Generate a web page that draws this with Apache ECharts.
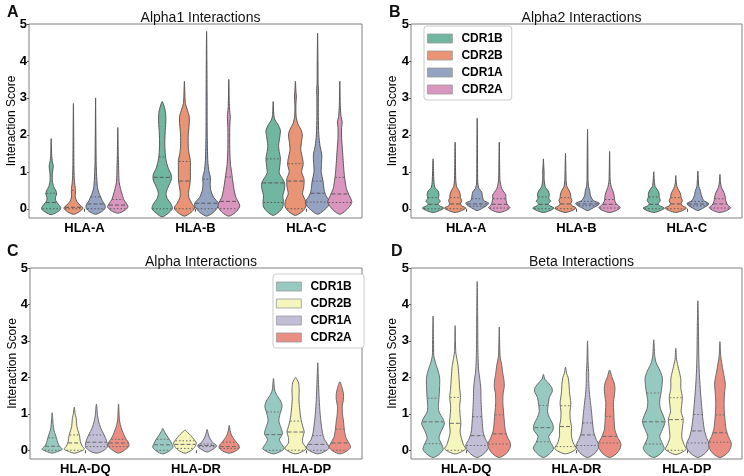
<!DOCTYPE html>
<html><head><meta charset="utf-8">
<script src="https://cdn.jsdelivr.net/npm/echarts@6/dist/echarts.min.js"></script>
<style>html,body{margin:0;padding:0;background:#fff}#c{width:744px;height:476px}</style>
</head><body><div id="c"></div>
<script>
// ---------- categories / labels ----------
const categoriesI = ['HLA-A', 'HLA-B', 'HLA-C'];
const categoriesII = ['HLA-DQ', 'HLA-DR', 'HLA-DP'];
const hues = ['CDR1B', 'CDR2B', 'CDR1A', 'CDR2A'];
const yTicks = [0, 1, 2, 3, 4, 5];
const titles = ['Alpha1 Interactions', 'Alpha2 Interactions', 'Alpha Interactions', 'Beta Interactions'];
const panelLetters = ['A', 'B', 'C', 'D'];

// ---------- violin profiles: [score, relative density width] per category; quartiles [q1, median, q3] ----------
// Panel A: Alpha1
const a1_CDR1B = [
  [[-0.16,0],[-0.1,0.45],[-0.03,0.75],[0.03,0.8],[0.12,0.6],[0.22,0.38],[0.3,0.35],[0.4,0.45],[0.48,0.4],[0.6,0.2],[0.75,0.1],[0.95,0.1],[1.08,0.15],[1.17,0.17],[1.27,0.1],[1.45,0.04],[1.9,0]],
  [[-0.22,0],[-0.12,0.5],[0,0.85],[0.12,0.75],[0.28,0.42],[0.42,0.32],[0.58,0.48],[0.78,0.75],[0.92,0.75],[1.1,0.5],[1.35,0.3],[1.7,0.22],[2.05,0.24],[2.35,0.3],[2.6,0.28],[2.78,0.15],[2.9,0]],
  [[-0.18,0],[-0.08,0.5],[0.05,0.8],[0.2,0.85],[0.35,0.8],[0.55,0.95],[0.7,0.95],[0.85,0.7],[0.97,0.5],[1.15,0.55],[1.37,0.6],[1.55,0.5],[1.72,0.45],[1.95,0.55],[2.12,0.6],[2.28,0.4],[2.4,0.15],[2.55,0.05],[2.9,0]]
];
const a1_CDR1B_q = [[0.0,0.17,0.42],[0.0,0.85,1.4],[0.17,0.7,1.35]];
const a1_CDR2B = [
  [[-0.15,0],[-0.08,0.5],[0.02,0.8],[0.1,0.55],[0.2,0.28],[0.32,0.15],[0.45,0.17],[0.55,0.16],[0.7,0.1],[0.9,0.06],[1.2,0.04],[2,0.025],[2.85,0]],
  [[-0.2,0],[-0.1,0.55],[0.02,0.85],[0.15,0.6],[0.3,0.38],[0.45,0.35],[0.65,0.45],[0.85,0.5],[1.1,0.5],[1.3,0.5],[1.5,0.38],[1.7,0.32],[2.0,0.32],[2.3,0.4],[2.5,0.4],[2.7,0.22],[2.85,0.08],[3.1,0.04],[3.45,0]],
  [[-0.18,0],[-0.08,0.55],[0.05,0.85],[0.2,0.85],[0.4,0.6],[0.6,0.7],[0.8,0.72],[1.0,0.52],[1.2,0.65],[1.35,0.6],[1.6,0.45],[1.8,0.5],[2.0,0.58],[2.15,0.45],[2.3,0.2],[2.5,0.06],[2.8,0.04],[3.05,0.08],[3.15,0.05],[3.45,0]]
];
const a1_CDR2B_q = [[0.0,0.04,0.5],[0.0,0.75,1.28],[0.0,0.75,1.22]];
const a1_CDR1A = [
  [[-0.15,0],[-0.08,0.5],[0.02,0.8],[0.12,0.75],[0.22,0.55],[0.32,0.42],[0.45,0.25],[0.6,0.15],[0.8,0.1],[0.95,0.08],[1.2,0.05],[2,0.025],[3.0,0]],
  [[-0.2,0],[-0.1,0.55],[0.05,0.95],[0.15,1.0],[0.3,0.6],[0.5,0.35],[0.7,0.3],[0.85,0.32],[1.0,0.2],[1.3,0.1],[2.0,0.05],[3.0,0.04],[4.0,0.025],[4.8,0]],
  [[-0.15,0],[-0.05,0.5],[0.1,0.95],[0.2,1.0],[0.35,0.7],[0.5,0.55],[0.75,0.45],[1.0,0.3],[1.2,0.32],[1.45,0.35],[1.7,0.2],[2.0,0.1],[2.5,0.06],[3.0,0.06],[3.2,0.08],[3.4,0.04],[4.0,0.03],[4.75,0]]
];
const a1_CDR1A_q = [[0.0,0.13,0.32],[0.0,0.15,0.8],[0.18,0.42,0.75]];
const a1_CDR2A = [
  [[-0.12,0],[-0.05,0.55],[0.05,0.85],[0.15,0.7],[0.25,0.5],[0.4,0.35],[0.55,0.22],[0.7,0.12],[0.9,0.08],[1.1,0.07],[1.4,0.04],[2.2,0]],
  [[-0.2,0],[-0.1,0.55],[0.05,0.9],[0.15,0.85],[0.3,0.6],[0.5,0.45],[0.75,0.33],[0.95,0.25],[1.2,0.14],[1.6,0.08],[2.2,0.08],[2.5,0.12],[2.7,0.06],[3.0,0.03],[3.5,0]],
  [[-0.15,0],[-0.05,0.5],[0.1,0.9],[0.2,1.0],[0.35,0.8],[0.55,0.55],[0.8,0.42],[1.0,0.35],[1.3,0.28],[1.6,0.22],[1.9,0.15],[2.2,0.15],[2.35,0.2],[2.5,0.1],[2.8,0.04],[3.45,0]]
];
const a1_CDR2A_q = [[0.0,0.1,0.25],[0.0,0.2,0.86],[0.17,0.4,0.85]];

// Panel B: Alpha2
const a2_CDR1B = [
  [[-0.1,0],[-0.05,0.55],[0.02,0.9],[0.08,0.55],[0.13,0.4],[0.2,0.6],[0.28,0.45],[0.38,0.5],[0.48,0.42],[0.58,0.15],[0.75,0.07],[1.0,0.04],[1.35,0]],
  [[-0.1,0],[-0.05,0.55],[0.02,0.9],[0.08,0.55],[0.13,0.4],[0.2,0.6],[0.28,0.45],[0.38,0.5],[0.48,0.4],[0.6,0.15],[0.8,0.06],[1.0,0.06],[1.1,0.04],[1.35,0]],
  [[-0.1,0],[-0.05,0.55],[0.02,0.9],[0.08,0.5],[0.14,0.38],[0.22,0.55],[0.32,0.45],[0.42,0.45],[0.52,0.3],[0.6,0.12],[0.75,0.05],[1.0,0]]
];
const a2_CDR1B_q = [[0.0,0.12,0.3],[0.0,0.12,0.32],[0.0,0.12,0.32]];
const a2_CDR2B = [
  [[-0.1,0],[-0.05,0.55],[0.02,0.9],[0.08,0.55],[0.14,0.45],[0.22,0.55],[0.3,0.45],[0.4,0.42],[0.5,0.3],[0.6,0.12],[0.8,0.05],[1.2,0.03],[1.8,0]],
  [[-0.1,0],[-0.05,0.55],[0.02,0.9],[0.08,0.55],[0.14,0.45],[0.22,0.55],[0.3,0.45],[0.4,0.42],[0.5,0.3],[0.6,0.12],[0.8,0.05],[1.1,0.03],[1.5,0]],
  [[-0.1,0],[-0.05,0.55],[0.02,0.9],[0.08,0.55],[0.14,0.45],[0.22,0.55],[0.3,0.45],[0.4,0.4],[0.5,0.25],[0.6,0.1],[0.7,0.04],[0.9,0]]
];
const a2_CDR2B_q = [[0.0,0.13,0.3],[0.0,0.13,0.3],[0.0,0.13,0.3]];
const a2_CDR1A = [
  [[-0.05,0],[0.02,0.45],[0.1,0.85],[0.16,0.95],[0.22,0.55],[0.32,0.45],[0.45,0.38],[0.55,0.15],[0.7,0.05],[1.2,0.03],[2.45,0]],
  [[-0.05,0],[0.03,0.5],[0.1,0.9],[0.15,1.0],[0.22,0.5],[0.35,0.25],[0.5,0.18],[0.6,0.08],[0.8,0.04],[1.3,0.03],[2.15,0]],
  [[-0.05,0],[0.03,0.5],[0.1,0.85],[0.15,0.9],[0.22,0.5],[0.35,0.3],[0.5,0.2],[0.6,0.08],[0.8,0.04],[1.02,0]]
];
const a2_CDR1A_q = [[0.07,0.13,0.27],[0.08,0.13,0.2],[0.08,0.13,0.2]];
const a2_CDR2A = [
  [[-0.1,0],[-0.05,0.55],[0.03,0.9],[0.1,0.7],[0.18,0.6],[0.28,0.55],[0.38,0.55],[0.45,0.4],[0.55,0.2],[0.65,0.12],[0.8,0.05],[1.2,0.03],[1.8,0]],
  [[-0.1,0],[-0.05,0.55],[0.03,0.9],[0.1,0.65],[0.2,0.45],[0.3,0.4],[0.4,0.35],[0.5,0.25],[0.58,0.15],[0.75,0.05],[1.0,0.03],[1.55,0]],
  [[-0.1,0],[-0.05,0.55],[0.03,0.9],[0.1,0.65],[0.2,0.5],[0.3,0.45],[0.4,0.38],[0.5,0.25],[0.58,0.12],[0.7,0.05],[0.93,0]]
];
const a2_CDR2A_q = [[0.02,0.12,0.27],[0.02,0.12,0.25],[0.02,0.13,0.27]];

// Panel C: Alpha
const al_CDR1B = [
  [[-0.08,0],[-0.03,0.5],[0.03,0.85],[0.12,0.6],[0.22,0.45],[0.32,0.38],[0.42,0.28],[0.55,0.15],[0.7,0.08],[0.85,0.05],[1.03,0]],
  [[-0.1,0],[-0.03,0.5],[0.08,0.85],[0.18,0.75],[0.3,0.55],[0.42,0.3],[0.52,0.12],[0.6,0]],
  [[-0.1,0],[-0.03,0.6],[0.05,0.9],[0.18,0.65],[0.3,0.5],[0.45,0.75],[0.6,0.65],[0.8,0.45],[1.0,0.55],[1.2,0.72],[1.35,0.6],[1.5,0.3],[1.65,0.1],[1.97,0]]
];
const al_CDR1B_q = [[0.0,0.11,0.34],[0.0,0.15,0.3],[0.0,0.43,1.05]];
const al_CDR2B = [
  [[-0.08,0],[-0.03,0.5],[0.03,0.85],[0.12,0.65],[0.25,0.5],[0.38,0.45],[0.5,0.35],[0.65,0.22],[0.8,0.18],[0.9,0.15],[1.0,0.07],[1.18,0]],
  [[-0.08,0],[0.0,0.55],[0.1,0.85],[0.2,0.95],[0.3,0.75],[0.4,0.5],[0.48,0.25],[0.55,0]],
  [[-0.1,0],[-0.03,0.6],[0.05,0.9],[0.2,0.6],[0.35,0.6],[0.5,0.72],[0.65,0.6],[0.85,0.45],[1.1,0.35],[1.4,0.28],[1.65,0.3],[1.85,0.25],[1.95,0.1],[2.0,0]]
];
const al_CDR2B_q = [[0.0,0.2,0.42],[0.05,0.16,0.26],[0.0,0.5,0.8]];
const al_CDR1A = [
  [[-0.08,0],[-0.02,0.55],[0.08,0.9],[0.2,0.9],[0.32,0.78],[0.45,0.6],[0.58,0.4],[0.75,0.22],[0.95,0.1],[1.27,0]],
  [[-0.05,0],[0.03,0.5],[0.12,0.8],[0.22,0.45],[0.32,0.25],[0.42,0.12],[0.57,0]],
  [[-0.1,0],[-0.03,0.6],[0.06,0.95],[0.18,0.8],[0.3,0.55],[0.5,0.38],[0.75,0.28],[1.0,0.2],[1.4,0.12],[1.8,0.07],[2.1,0.04],[2.4,0]]
];
const al_CDR1A_q = [[0.1,0.22,0.42],[0.1,0.13,0.17],[0.0,0.16,0.4]];
const al_CDR2A = [
  [[-0.08,0],[0.0,0.5],[0.1,0.85],[0.2,0.85],[0.3,0.65],[0.42,0.45],[0.55,0.3],[0.7,0.15],[0.85,0.07],[1.27,0]],
  [[-0.08,0],[-0.02,0.55],[0.06,0.85],[0.14,0.8],[0.24,0.55],[0.35,0.3],[0.45,0.15],[0.55,0.07],[0.68,0]],
  [[-0.1,0],[-0.03,0.55],[0.08,0.9],[0.2,0.75],[0.35,0.5],[0.55,0.38],[0.8,0.3],[1.0,0.22],[1.2,0.2],[1.4,0.3],[1.55,0.3],[1.7,0.2],[1.88,0]]
];
const al_CDR2A_q = [[0.1,0.2,0.3],[0.05,0.1,0.22],[0.0,0.2,0.58]];

// Panel D: Beta
const be_CDR1B = [
  [[-0.2,0],[-0.1,0.55],[0.03,0.85],[0.18,0.7],[0.33,0.5],[0.5,0.65],[0.72,0.95],[0.85,0.85],[1.05,0.5],[1.2,0.45],[1.45,0.5],[1.75,0.55],[2.0,0.55],[2.2,0.4],[2.4,0.2],[2.6,0.06],[3.0,0.04],[3.68,0]],
  [[-0.2,0],[-0.1,0.5],[0.05,0.85],[0.22,0.6],[0.38,0.45],[0.55,0.8],[0.7,0.8],[0.9,0.5],[1.05,0.35],[1.25,0.4],[1.45,0.5],[1.62,0.75],[1.72,0.7],[1.85,0.4],[1.95,0.12],[2.08,0]],
  [[-0.2,0],[-0.1,0.55],[0.05,0.88],[0.2,0.7],[0.38,0.5],[0.55,0.7],[0.78,0.95],[0.95,0.8],[1.15,0.55],[1.35,0.5],[1.55,0.6],[1.8,0.7],[2.0,0.72],[2.2,0.5],[2.4,0.2],[2.6,0.08],[3.03,0]]
];
const be_CDR1B_q = [[0.18,0.78,1.43],[0.23,0.62,1.23],[0.17,0.78,1.57]];
const be_CDR2B = [
  [[-0.1,0],[-0.04,0.55],[0.04,0.88],[0.15,0.7],[0.3,0.55],[0.5,0.42],[0.75,0.48],[0.95,0.42],[1.2,0.38],[1.45,0.45],[1.7,0.38],[2.0,0.32],[2.3,0.25],[2.55,0.12],[2.7,0.05],[3.42,0]],
  [[-0.1,0],[-0.04,0.55],[0.05,0.9],[0.2,0.65],[0.4,0.5],[0.65,0.5],[0.85,0.4],[1.05,0.38],[1.3,0.45],[1.55,0.35],[1.8,0.3],[2.0,0.22],[2.1,0.1],[2.28,0]],
  [[-0.12,0],[-0.05,0.55],[0.03,0.88],[0.15,0.7],[0.35,0.5],[0.6,0.55],[0.85,0.62],[1.05,0.45],[1.25,0.5],[1.45,0.55],[1.7,0.42],[1.95,0.42],[2.15,0.3],[2.35,0.15],[2.5,0.06],[2.8,0]]
];
const be_CDR2B_q = [[0.0,0.74,1.45],[0.1,0.65,1.22],[0.0,0.84,1.44]];
const be_CDR1A = [
  [[-0.2,0],[-0.1,0.55],[0.05,0.92],[0.15,0.95],[0.3,0.7],[0.5,0.5],[0.8,0.42],[1.1,0.36],[1.4,0.32],[1.7,0.3],[1.95,0.22],[2.2,0.12],[2.6,0.07],[3.0,0.05],[3.7,0.04],[4.63,0]],
  [[-0.2,0],[-0.1,0.55],[0.05,0.9],[0.15,0.95],[0.3,0.72],[0.5,0.52],[0.75,0.42],[1.0,0.35],[1.3,0.25],[1.6,0.15],[1.9,0.1],[2.1,0.1],[2.4,0.05],[3.0,0]],
  [[-0.2,0],[-0.1,0.55],[0.05,0.92],[0.18,0.95],[0.35,0.72],[0.55,0.55],[0.85,0.42],[1.2,0.32],[1.6,0.22],[2.0,0.14],[2.5,0.08],[3.0,0.06],[3.5,0.04],[4.1,0]]
];
const be_CDR1A_q = [[0.13,0.4,0.92],[0.13,0.42,0.75],[0.2,0.53,0.98]];
const be_CDR2A = [
  [[-0.2,0],[-0.1,0.55],[0.05,0.88],[0.18,0.95],[0.35,0.7],[0.55,0.5],[0.8,0.42],[1.05,0.36],[1.3,0.3],[1.55,0.32],[1.75,0.42],[1.9,0.4],[2.1,0.3],[2.35,0.2],[2.55,0.08],[2.8,0.04],[3.38,0]],
  [[-0.2,0],[-0.1,0.55],[0.05,0.88],[0.18,0.95],[0.35,0.68],[0.55,0.45],[0.8,0.38],[1.05,0.35],[1.3,0.32],[1.5,0.4],[1.7,0.45],[1.85,0.38],[2.0,0.2],[2.2,0]],
  [[-0.2,0],[-0.1,0.55],[0.05,0.88],[0.2,0.95],[0.38,0.7],[0.6,0.5],[0.85,0.42],[1.1,0.36],[1.35,0.35],[1.6,0.4],[1.8,0.45],[1.95,0.4],[2.15,0.28],[2.4,0.15],[2.6,0.06],[2.98,0]]
];
const be_CDR2A_q = [[0.17,0.45,0.97],[0.2,0.38,0.93],[0.22,0.48,0.97]];

// ---------- styles ----------
const set2 = ['#71b6a1', '#e99575', '#95a3c3', '#db96c0'];
const set3 = ['#96cac1', '#f5f5bc', '#c1bed6', '#ea8e83'];
const edgeI = '#595959', edgeII = '#6a6a6a';
const FONT = 'Liberation Sans, Arial, sans-serif';
const WIDTH_SCALE = 1.08;

const grids = [
  {left: 29, top: 24, width: 333, height: 194},
  {left: 411, top: 24, width: 331, height: 194},
  {left: 30, top: 268, width: 332, height: 194},
  {left: 411, top: 268, width: 331, height: 194}
];

const panels = [
  {cats: categoriesI, profiles: [a1_CDR1B, a1_CDR2B, a1_CDR1A, a1_CDR2A], quarts: [a1_CDR1B_q, a1_CDR2B_q, a1_CDR1A_q, a1_CDR2A_q], colors: set2, edge: edgeI},
  {cats: categoriesI, profiles: [a2_CDR1B, a2_CDR2B, a2_CDR1A, a2_CDR2A], quarts: [a2_CDR1B_q, a2_CDR2B_q, a2_CDR1A_q, a2_CDR2A_q], colors: set2, edge: edgeI},
  {cats: categoriesII, profiles: [al_CDR1B, al_CDR2B, al_CDR1A, al_CDR2A], quarts: [al_CDR1B_q, al_CDR2B_q, al_CDR1A_q, al_CDR2A_q], colors: set3, edge: edgeII},
  {cats: categoriesII, profiles: [be_CDR1B, be_CDR2B, be_CDR1A, be_CDR2A], quarts: [be_CDR1B_q, be_CDR2B_q, be_CDR1A_q, be_CDR2A_q], colors: set3, edge: edgeII}
];

function widthAt(prof, y) {
  for (let i = 0; i < prof.length - 1; i++) {
    const a = prof[i], b = prof[i + 1];
    if (y >= a[0] && y <= b[0]) {
      const t = (y - a[0]) / (b[0] - a[0] || 1);
      return a[1] + t * (b[1] - a[1]);
    }
  }
  return 0;
}

function makeSeries(pi, hi) {
  const P = panels[pi];
  const profs = P.profiles[hi], qs = P.quarts[hi];
  const color = P.colors[hi], edge = P.edge;
  return {
    type: 'custom',
    name: hues[hi] + (pi >= 2 ? ' ' : ''),
    xAxisIndex: pi, yAxisIndex: pi,
    clip: true,
    itemStyle: {color: color},
    data: qs.map((q, i) => [i, q[1]]),
    encode: {x: 0, y: 1},
    renderItem: function (params, api) {
      const ci = api.value(0);
      const prof = profs[params.dataIndex];
      const q = qs[params.dataIndex];
      const band = api.size([1, 0])[0];
      const slot = band * 0.8 / 4;
      const half = slot / 2 * WIDTH_SCALE;
      const cx = api.coord([ci, 0])[0] + (hi - 1.5) * slot;
      const right = prof.map(p => [cx + p[1] * half, api.coord([ci, p[0]])[1]]);
      const left = prof.slice(1, -1).reverse().map(p => [cx - p[1] * half, api.coord([ci, p[0]])[1]]);
      const children = [{
        type: 'polygon',
        shape: {points: right.concat(left), smooth: 0.25},
        style: {fill: color, stroke: edge, lineWidth: 1}
      }];
      q.forEach((v, k) => {
        const w = widthAt(prof, v) * half;
        const yy = api.coord([ci, v])[1];
        children.push({
          type: 'line',
          shape: {x1: cx - w + 0.5, y1: yy, x2: cx + w - 0.5, y2: yy},
          style: {stroke: edge, lineWidth: 1, lineDash: k === 1 ? [4, 2] : [1.5, 2]}
        });
      });
      return {type: 'group', children: children};
    }
  };
}

const series = [];
for (let p = 0; p < 4; p++) for (let h = 0; h < 4; h++) series.push(makeSeries(p, h));

const xAxes = panels.map((P, i) => ({
  type: 'category', gridIndex: i, data: P.cats, boundaryGap: true,
  axisLine: {show: false},
  axisTick: {show: true, alignWithLabel: true, length: 3, lineStyle: {color: '#555'}},
  axisLabel: {color: '#000', fontFamily: FONT, fontWeight: 'bold', fontSize: 13, margin: 4},
  splitLine: {show: false}
}));
const yAxes = panels.map((P, i) => ({
  type: 'value', gridIndex: i, min: i < 2 ? -0.25 : -0.24, max: 5,
  name: 'Interaction Score', nameLocation: 'middle', nameRotate: 90, nameGap: i % 2 === 0 ? 11 : 12,
  nameMoveOverlap: false,
  nameTextStyle: {color: '#000', fontFamily: FONT, fontSize: 12},
  axisLine: {show: false},
  axisTick: {show: true, length: 2, customValues: yTicks, lineStyle: {color: '#555'}},
  axisLabel: {color: '#000', fontFamily: FONT, fontWeight: 'bold', fontSize: 13, margin: 2, customValues: yTicks},
  splitLine: {show: false}
}));

const titleCfg = titles.map((t, i) => ({
  text: t, left: grids[i].left + grids[i].width / 2, top: grids[i].top - 18, textAlign: 'center',
  textStyle: {fontFamily: FONT, fontSize: 14, fontWeight: 'normal', color: '#111'}
}));
const letterPos = [[2, 0], [384, 0], [2, 239], [386, 239]];
panelLetters.forEach((L, i) => titleCfg.push({
  text: L, left: letterPos[i][0], top: letterPos[i][1],
  textStyle: {fontFamily: FONT, fontSize: 16, fontWeight: 'bold', color: '#111'}
}));

function legendCfg(left, top, colors, suffix) {
  return {
    orient: 'vertical', left: left, top: top,
    icon: 'rect', itemWidth: 25, itemHeight: 9, itemGap: 2,
    padding: [5, 9, 3, 3],
    backgroundColor: '#fff', borderColor: '#cccccc', borderWidth: 1, borderRadius: 3,
    textStyle: {fontFamily: FONT, fontSize: 12, fontWeight: 'bold', color: '#000', lineHeight: 15, padding: [0, 0, 0, 4]},
    data: hues.map((h, k) => ({name: h + suffix, itemStyle: {color: colors[k], borderColor: '#999', borderWidth: 0.8}})),
    selectedMode: false
  };
}

const chart = echarts.init(document.getElementById('c'), null, {renderer: 'canvas'});
chart.setOption({
  animation: false,
  backgroundColor: '#fff',
  title: titleCfg,
  grid: grids.map(g => Object.assign({show: true, borderColor: '#808080', borderWidth: 1, backgroundColor: 'transparent'}, g)),
  xAxis: xAxes,
  yAxis: yAxes,
  legend: [legendCfg(424, 26, set2, ''), legendCfg(273, 274, set3, ' ')],
  series: series
});
</script></body></html>
